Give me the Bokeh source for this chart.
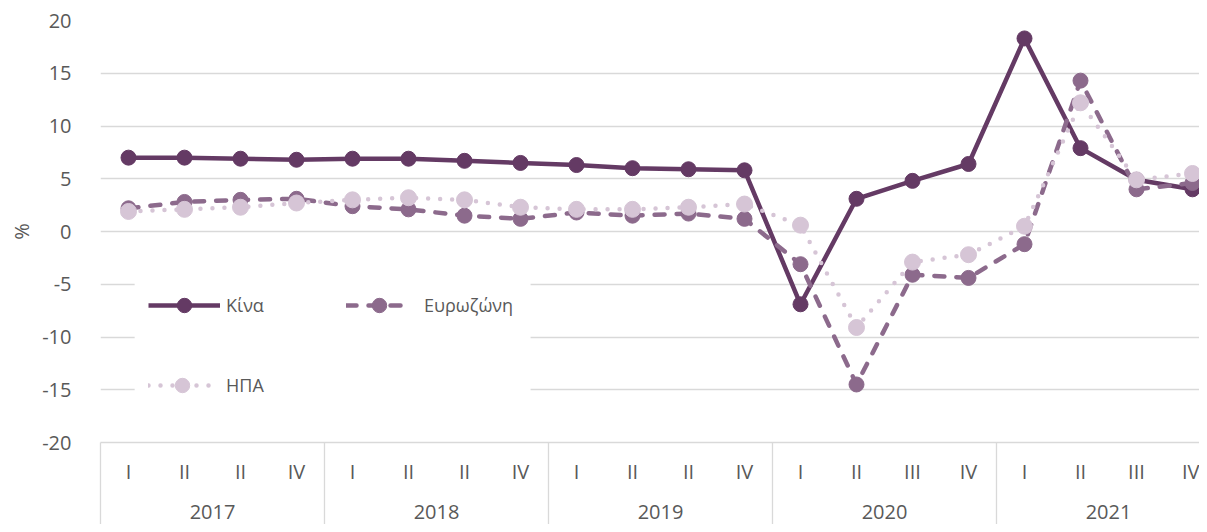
from bokeh.plotting import figure
from bokeh.models import (Range1d, FixedTicker, LinearAxis, Legend, LegendItem,
                          ColumnDataSource, BoxAnnotation)
from bokeh.embed import file_html
from bokeh.resources import INLINE

# ---- data -------------------------------------------------------------
years = ["2017", "2018", "2019", "2020", "2021"]
quarters = ["I", "II", "II", "IV",
            "I", "II", "II", "IV",
            "I", "II", "II", "IV",
            "I", "II", "III", "IV",
            "I", "II", "III", "IV"]
china = [7.0, 7.0, 6.9, 6.8,
         6.9, 6.9, 6.7, 6.5,
         6.3, 6.0, 5.9, 5.8,
         -6.9, 3.1, 4.8, 6.4,
         18.3, 7.9, 4.9, 4.0]
euro = [2.2, 2.8, 3.0, 3.1,
        2.4, 2.1, 1.5, 1.2,
        1.8, 1.5, 1.7, 1.2,
        -3.1, -14.5, -4.1, -4.4,
        -1.2, 14.3, 4.0, 4.6]
usa = [1.9, 2.1, 2.3, 2.7,
       3.0, 3.2, 3.0, 2.3,
       2.1, 2.1, 2.3, 2.6,
       0.6, -9.1, -2.9, -2.2,
       0.5, 12.2, 4.9, 5.5]
series_names = ["Κίνα", "Ευρωζώνη", "ΗΠΑ"]
y_ticks = [-20, -15, -10, -5, 0, 5, 10, 15, 20]

# ---- styling ----------------------------------------------------------
FONT = "Open Sans"
TXT = "#595959"
GRID = "#d9d9d9"
C_CHINA = "#643a64"
C_EURO = "#8c6a8c"
C_USA = "#d6c5d6"
TICK_FS = "20px"
LEG_FS = "18px"

n = len(quarters)
xs = list(range(n))
src = ColumnDataSource(dict(x=xs, china=china, euro=euro, usa=usa))

p = figure(width=1199, height=524, output_backend="svg", toolbar_location=None,
           x_range=Range1d(-0.5, 19.125), y_range=Range1d(-20, 20),
           min_border_left=100, min_border_right=0, min_border_top=20,
           min_border_bottom=82)
p.outline_line_color = None
p.background_fill_color = "white"

# lines and markers
r1 = p.line("x", "china", source=src, line_color=C_CHINA, line_width=4.5,
            line_join="round")
m1 = p.scatter("x", "china", source=src, size=15, fill_color=C_CHINA,
               line_color=C_CHINA)
r2 = p.line("x", "euro", source=src, line_color=C_EURO, line_width=4.5,
            line_dash="10 12", line_cap="round", line_join="round")
m2 = p.scatter("x", "euro", source=src, size=15, fill_color=C_EURO,
               line_color=C_EURO)
r3 = p.line("x", "usa", source=src, line_color=C_USA, line_width=4.5,
            line_dash="0 12", line_cap="round", line_join="round")
m3 = p.scatter("x", "usa", source=src, size=16, fill_color=C_USA,
               line_color=C_USA)

# y axis
ya = p.yaxis[0]
ya.ticker = FixedTicker(ticks=y_ticks)
ya.major_label_overrides = {t: str(t) for t in y_ticks}
ya.axis_line_color = None
ya.major_tick_line_color = None
ya.minor_tick_line_color = None
ya.major_label_standoff = 23
ya.major_label_text_font = FONT
ya.major_label_text_font_size = TICK_FS
ya.major_label_text_color = TXT
ya.axis_label = "%"
ya.axis_label_text_font = FONT
ya.axis_label_text_font_size = TICK_FS
ya.axis_label_text_font_style = "normal"
ya.axis_label_text_color = TXT
ya.axis_label_standoff = 4

p.xgrid.visible = False
p.ygrid.grid_line_color = GRID
p.ygrid.grid_line_width = 1.3

# x axis 1: quarters
xa = p.xaxis[0]
xa.ticker = FixedTicker(ticks=xs, minor_ticks=[])
xa.major_label_overrides = {i: q for i, q in zip(xs, quarters)}
xa.major_tick_line_color = None
xa.minor_tick_line_color = None
xa.axis_line_color = GRID
xa.axis_line_width = 1.3
xa.major_label_standoff = 9
xa.major_label_text_font = FONT
xa.major_label_text_font_size = TICK_FS
xa.major_label_text_color = TXT

# x axis 2: years
centers = [1.5 + 4 * i for i in range(len(years))]
xa2 = LinearAxis(ticker=FixedTicker(ticks=centers, minor_ticks=[]),
                 major_label_overrides={c: y for c, y in zip(centers, years)},
                 axis_line_color=None, major_tick_line_color=None,
                 minor_tick_line_color=None, major_label_standoff=11,
                 major_label_text_font=FONT, major_label_text_font_size=TICK_FS,
                 major_label_text_color=TXT)
p.add_layout(xa2, "below")

# x axis 3: group separators, ticks pointing up through the label rows
bounds = [-0.5 + 4 * i for i in range(len(years) + 1)]
xa3 = LinearAxis(ticker=FixedTicker(ticks=bounds, minor_ticks=[]),
                 major_label_overrides={b: " " for b in bounds},
                 axis_line_color=None, major_tick_in=79, major_tick_out=3,
                 major_tick_line_color=GRID, major_tick_line_width=1.3,
                 minor_tick_line_color=None, major_label_standoff=0,
                 major_label_text_font_size="0px")
p.add_layout(xa3, "below")

# white legend panel
p.add_layout(BoxAnnotation(left=0.11, right=7.18, top=-4.55, bottom=-17.05,
                           fill_color="white", fill_alpha=1.0, line_alpha=0))

common = dict(glyph_height=36, label_height=36, padding=0, margin=0,
              spacing=0, background_fill_alpha=0, border_line_alpha=0,
              label_text_font=FONT, label_text_font_size=LEG_FS,
              label_text_color=TXT)
leg1 = Legend(items=[LegendItem(label=series_names[0], renderers=[r1, m1])],
              location=(48, 119), glyph_width=72, label_standoff=6, **common)
leg2 = Legend(items=[LegendItem(label=series_names[1], renderers=[r2, m2])],
              location=(246, 119), glyph_width=66, label_standoff=12, **common)
leg3 = Legend(items=[LegendItem(label=series_names[2], renderers=[r3, m3])],
              location=(48, 39), glyph_width=68, label_standoff=10, **common)
for lg in (leg1, leg2, leg3):
    p.add_layout(lg)

open("out.html", "w").write(file_html(p, INLINE))
